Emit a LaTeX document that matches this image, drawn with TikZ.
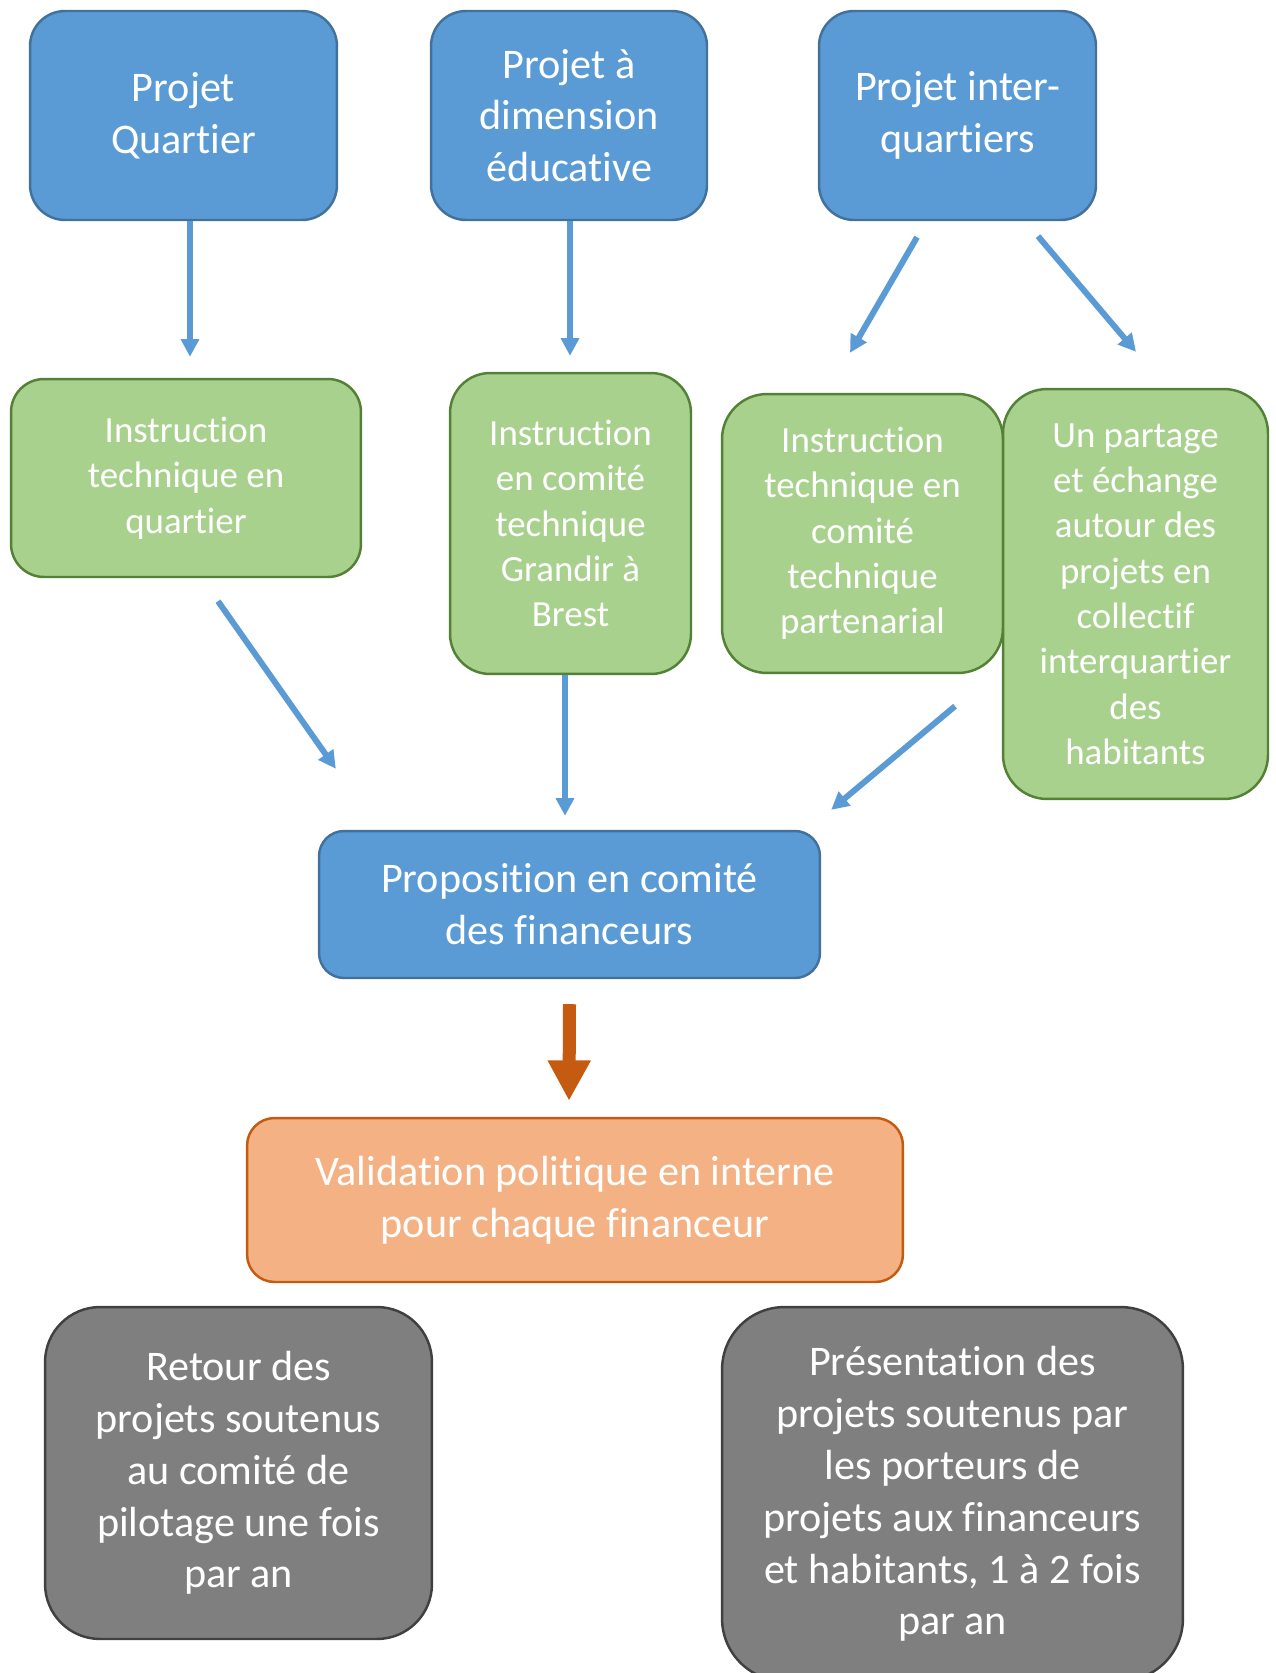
\documentclass[tikz,border=0pt]{standalone}
\usepackage{fontspec}
\setmainfont{Carlito}[RawFeature={-liga;-clig;-calt;-dlig}]
\usetikzlibrary{arrows.meta,positioning,calc}
\definecolor{projfill}{HTML}{5B9BD5}
\definecolor{projline}{HTML}{41719C}
\definecolor{instrfill}{HTML}{A9D18E}
\definecolor{instrline}{HTML}{538135}
\definecolor{validfill}{HTML}{F4B183}
\definecolor{validline}{HTML}{C55A11}
\definecolor{retfill}{HTML}{7F7F7F}
\definecolor{retline}{HTML}{404040}
\tikzset{
  box/.style={rectangle,line width=1.4pt,text=white,align=center,inner sep=0pt},
  proj/.style={box,draw=projline,fill=projfill,font=\fontsize{24}{29.5}\selectfont},
  instr/.style={box,draw=instrline,fill=instrfill,font=\fontsize{21}{25.8}\selectfont},
  valid/.style={box,draw=validline,fill=validfill,font=\fontsize{24}{29.5}\selectfont},
  ret/.style={box,draw=retline,fill=retfill,font=\fontsize{24}{29.5}\selectfont},
  flow/.style={-{Triangle[length=10pt,width=10pt]},line width=3.4pt,projfill},
  push/.style={-{Triangle[length=23pt,width=23pt]},line width=7.4pt,validline},
}

\begin{document}
\begin{tikzpicture}[x=0.02cm,y=-0.02cm]
\useasboundingbox (0,0) rectangle (1275,1673);
% projects
\node[proj,minimum width=6.14cm,minimum height=4.18cm,rounded corners=0.7cm] (pq) at (183.5,115.5) {Projet\\Quartier};
\node[proj,minimum width=5.52cm,minimum height=4.18cm,rounded corners=0.7cm] (pe) at (569,115.5) {Projet à\\dimension\\éducative};
\node[proj,minimum width=5.54cm,minimum height=4.18cm,rounded corners=0.7cm] (pi) at (957.5,115.5) {Projet inter-\\quartiers};

% instruction
\node[instr,minimum width=7cm,minimum height=3.96cm,rounded corners=0.66cm] (iq) at (186,478) {Instruction\\technique en\\quartier};
\node[instr,minimum width=4.82cm,minimum height=6.02cm,rounded corners=0.8cm] (ig) at (570.5,523.5) {Instruction\\en comité\\technique\\Grandir à\\Brest};
\node[instr,minimum width=5.62cm,minimum height=5.58cm,rounded corners=0.9cm] (ip) at (862.5,533.5) {Instruction\\technique en\\comité\\technique\\partenarial};
\node[instr,minimum width=5.3cm,minimum height=8.2cm,rounded corners=0.88cm] (ph) at (1135.5,594) {Un partage\\et échange\\autour des\\projets en\\collectif\\interquartier\\des\\habitants};

% financeurs
\node[proj,minimum width=10.02cm,minimum height=2.94cm,rounded corners=0.5cm] (prop) at (569.5,904.5) {Proposition en comité\\des financeurs};
\node[valid,minimum width=13.12cm,minimum height=3.28cm,rounded corners=0.55cm] (val) at (575,1200) {Validation politique en interne\\pour chaque financeur};

% retours
\node[ret,minimum width=7.74cm,minimum height=6.64cm,rounded corners=1.1cm] (rc) at (238.5,1473) {Retour des\\projets soutenus\\au comité de\\pilotage une fois\\par an};
\node[ret,minimum width=9.22cm,minimum height=7.48cm,rounded corners=1.25cm] (rp) at (952.5,1494) {Présentation des\\projets soutenus par\\les porteurs de\\projets aux financeurs\\et habitants, 1 à 2 fois\\par an};

% arrows
\draw[flow] ($(pq.south)+(6.5,0)$) -- ($(iq.north)+(4,-21)$);
\draw[flow] ($(pe.south)+(1,0)$) -- ($(ig.north)+(-0.5,-16)$);
\draw[flow] ($(pi.south)+(-40.5,16)$) -- ($(ip.north)+(-12.5,-40)$);
\draw[flow] ($(pi.south)+(80.5,15)$) -- ($(ph.north)+(0.5,-36)$);
\draw[flow] ($(iq.south)+(32,23)$) -- ($(prop.north west)+(18,-61)$);
\draw[flow] ($(ig.south)+(-5.5,0)$) -- ($(prop.north)+(-4.5,-14)$);
\draw[flow] ($(ip.south)+(92.5,32)$) -- ($(prop.north east)+(10,-20)$);
\draw[push] ($(prop.south)+(0,25)$) -- ($(val.north)+(-6,-16)$);
\end{tikzpicture}
\end{document}
